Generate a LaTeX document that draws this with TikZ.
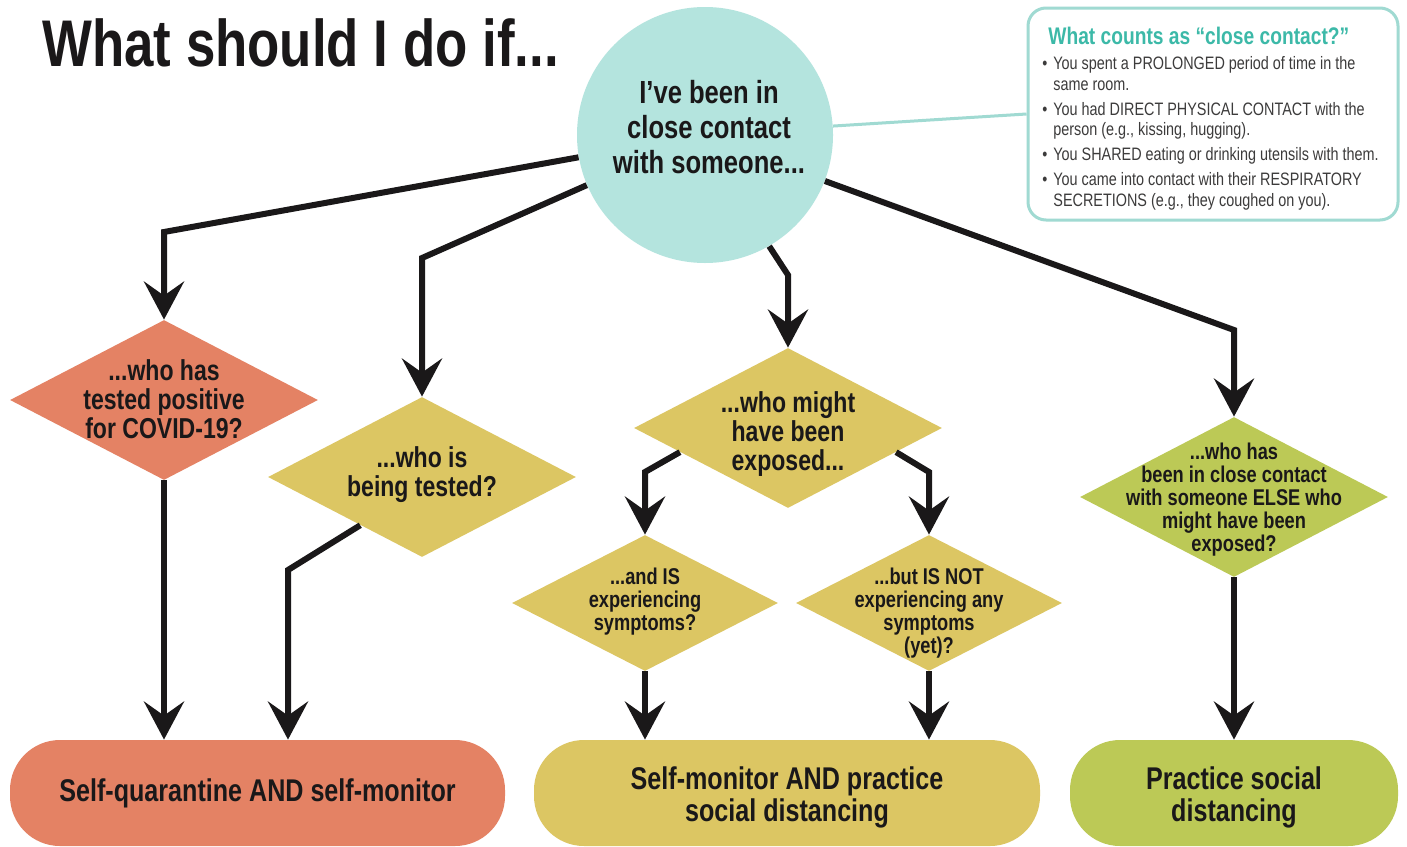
\documentclass[tikz,border=0pt]{standalone}
\usepackage{fontspec}
\setmainfont{Liberation Sans}[FakeStretch=0.8]
\usepackage{xcolor}
\usetikzlibrary{shapes.geometric,arrows.meta,calc}
\definecolor{coral}{RGB}{228,130,100}
\definecolor{mustard}{RGB}{220,198,99}
\definecolor{lime}{RGB}{188,201,86}
\definecolor{aqua}{RGB}{180,228,222}
\definecolor{aqualine}{RGB}{160,218,210}
\definecolor{aquatext}{RGB}{60,185,168}
\definecolor{ink}{RGB}{26,24,25}
\newcommand{\crdot}{\makebox[5.5pt][l]{\textbullet}}
\newcommand{\crgap}{\hspace*{5.5pt}}

\begin{document}
\begin{tikzpicture}[x=0.5pt, y=-0.5pt,
    flow/.style={line width=3pt, draw=ink, -{Stealth[length=19pt,width=20pt,inset=7pt]}},
    bigdia/.style={diamond, minimum width=154pt, minimum height=80pt, inner sep=0pt},
    smalldia/.style={diamond, minimum width=133pt, minimum height=68pt, inner sep=0pt},
    bigtxt/.style={align=center, inner sep=0pt, text=ink, font=\bfseries\fontsize{14.4}{14.5}\selectfont},
    smalltxt/.style={align=center, inner sep=0pt, text=ink, font=\bfseries\fontsize{11.4}{11.5}\selectfont},
    outcome/.style={rectangle, rounded corners=25pt, minimum height=53pt, inner sep=0pt},
    outtxt/.style={align=center, inner sep=0pt, text=ink, font=\bfseries\fontsize{15.7}{16}\selectfont}]
        \useasboundingbox (0,0) rectangle (1407,846);
        \fill[white] (0,0) rectangle (1407,846);

        % title and the starting question
        \node[anchor=base west, inner sep=0pt, text=ink, font=\bfseries\fontsize{33}{36}\selectfont] (title) at (42,66) {What should I do if...};
        \node[circle, fill=aqua, minimum size=128pt, inner sep=0pt] (hub) at (705,135) {};
        \node[align=center, inner sep=0pt, text=ink, font=\bfseries\fontsize{16}{17.5}\selectfont] (hub-t) at (709,127) {I’ve been in\\close contact\\with someone...};

        % what close contact means
        \node[draw=aqualine, line width=1.5pt, rounded corners=9pt, minimum width=185pt, minimum height=106pt, inner sep=0pt] (crit) at (1213,114) {};
        \node[anchor=base west, inner sep=0pt, text=aquatext, font=\bfseries\fontsize{12}{12}\selectfont] (crit-h) at (1048,44) {What counts as “close contact?”};
        \node[anchor=north west, inner sep=0pt, align=left, text=ink!85, font=\fontsize{9}{10.25}\selectfont] (crit-b) at (1042,56.5) {%
            \crdot You spent a PROLONGED period of time in the\\
            \crgap same room.\\[2.25pt]
            \crdot You had DIRECT PHYSICAL CONTACT with the\\
            \crgap person (e.g., kissing, hugging).\\[2.25pt]
            \crdot You SHARED eating or drinking utensils with them.\\[2.25pt]
            \crdot You came into contact with their RESPIRATORY\\
            \crgap SECRETIONS (e.g., they coughed on you).};
        \draw[aqualine, line width=1.5pt] (crit.west) -- (hub.4);

        % questions
        \node[bigdia, fill=coral] (pos) at (164,400) {};
        \node[bigtxt] (pos-t) at (164,399) {...who has\\tested positive\\for COVID-19?};
        \node[bigdia, fill=mustard] (test) at (422,477) {};
        \node[bigtxt] (test-t) at (422,475) {...who is\\being tested?};
        \node[bigdia, fill=mustard] (expo) at (788,428) {};
        \node[bigtxt] (expo-t) at (788,434) {...who might\\have been\\exposed...};
        \node[smalldia, fill=mustard] (symp) at (645,603) {};
        \node[smalltxt] (symp-t) at (645,602) {...and IS\\experiencing\\symptoms?};
        \node[smalldia, fill=mustard] (nosymp) at (929,603) {};
        \node[smalltxt] (nosymp-t) at (929,613) {...but IS NOT\\experiencing any\\symptoms\\(yet)?};
        \node[bigdia, fill=lime] (second) at (1234,497) {};
        \node[smalltxt] (second-t) at (1234,500) {...who has\\been in close contact\\with someone ELSE who\\might have been\\exposed?};

        % what to do
        \node[outcome, fill=coral, minimum width=247.5pt] (quar) at (257.5,793) {};
        \node[outtxt] (quar-t) at (257.5,793) {Self-quarantine AND self-monitor};
        \node[outcome, fill=mustard, minimum width=253pt] (mon) at (787,793) {};
        \node[outtxt] (mon-t) at (787,797) {Self-monitor AND practice\\social distancing};
        \node[outcome, fill=lime, minimum width=164pt] (dist) at (1234,793) {};
        \node[outtxt] (dist-t) at (1234,797) {Practice social\\distancing};

        % arrows
        \coordinate (b1) at (164,232);
        \coordinate (b2) at (422,258);
        \coordinate (b3) at (788,275);
        \coordinate (b4) at (1234,330);
        \coordinate (b5) at (645,472);
        \coordinate (b6) at (929,472);
        \coordinate (b7) at (288,570);
        \draw[flow] (hub.190) -- (b1) -- (pos.north);
        \draw[flow] (hub.203) -- (b2) -- (test.north);
        \draw[flow] (hub.300) -- (b3) -- (expo.north);
        \draw[flow] (hub.339) -- (b4) -- (second.north);
        \draw[flow] ($(expo.west)!0.3!(expo.south)$) -- (b5) -- (symp.north);
        \draw[flow] ($(expo.east)!0.3!(expo.south)$) -- (b6) -- (nosymp.north);
        \draw[flow] (pos.south) -- (pos.south |- quar.north);
        \draw[flow] ($(test.west)!0.6!(test.south)$) -- (b7) -- (b7 |- quar.north);
        \draw[flow] (symp.south) -- (symp.south |- mon.north);
        \draw[flow] (nosymp.south) -- (nosymp.south |- mon.north);
        \draw[flow] (second.south) -- (second.south |- dist.north);
    \end{tikzpicture}
\end{document}
